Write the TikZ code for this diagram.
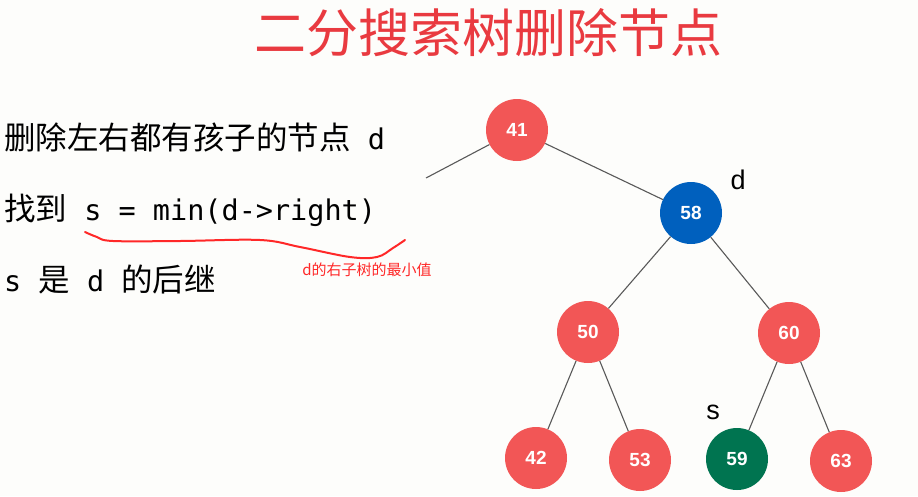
\documentclass[tikz,border=0pt]{standalone}
\usepackage{fontspec}
\setmainfont{Liberation Sans}
\setmonofont{DejaVu Sans Mono}
\newfontfamily\cjk{Noto Sans CJK SC}
\usetikzlibrary{positioning}
\definecolor{bgwhite}{RGB}{253,253,251}
\definecolor{titlered}{RGB}{233,58,64}
\definecolor{keyred}{RGB}{242,86,86}
\definecolor{keyblue}{RGB}{0,96,190}
\definecolor{keygreen}{RGB}{0,116,80}
\definecolor{notered}{RGB}{255,40,40}
\newcommand{\zh}[1]{{\cjk\fontsize{31.5}{31.5}\selectfont #1}}
\tikzset{every node/.style={inner sep=0pt}, % no padding round texts
key/.style={circle, minimum size=62pt, text=white, font=\fontsize{19}{19}\selectfont\bfseries}, % a tree node
red key/.style={key, fill=keyred},
edge/.style={draw=black!65, line width=1.1pt}, % the links of the tree
line/.style={anchor=base west, font=\fontsize{28.5}{28.5}\selectfont\ttfamily}, % a line of the text on the left
tag/.style={font=\fontsize{27}{27}\selectfont}, % the d and s marks
}

\begin{document}
\begin{tikzpicture}[x=1pt, y=-1pt]
\fill[bgwhite] (0,0) rectangle (918,496);
\useasboundingbox (0,0) rectangle (918,496);
\node[text=titlered, font=\cjk\fontsize{52}{52}\selectfont] (title) at (488,33) {二分搜索树删除节点};
% the text on the left
\node[line] (l1) at (4,149) {\zh{删除左右都有孩子的节点} d};
\node[line] (l2) at (4,220) {\zh{找到} s = min(d->right)};
\node[line] (l3) at (4,291) {s \zh{是} d \zh{的后继}};
\draw[notered, line width=2pt, line cap=round] plot[smooth, tension=0.6] coordinates {(85,232) (97,237) (113,241) (180,241) (260,240) (300,247) (350,257) (377,257) (393,248) (405,240)};
\node[text=notered, font=\cjk\fontsize{15}{15}\selectfont] (note) at (367,270) {d的右子树的最小值};
% the tree
\node[red key] (41) at (517,130) {41};
\node[key, fill=keyblue] (58) at (691,213) {58};
\node[red key] (50) at (588,332) {50};
\node[red key] (60) at (789,333) {60};
\node[red key] (42) at (536,458) {42};
\node[red key] (53) at (640,460) {53};
\node[key, fill=keygreen] (59) at (737,459) {59};
\node[red key] (63) at (841,461) {63};
\coordinate (left) at (426,178);
\node[tag] (d) at (738,180) {d};
\node[tag] (s) at (713,412) {s};
\draw[edge] (41) -- (left)
(41) -- (58)
(58) -- (50)
(58) -- (60)
(50) -- (42)
(50) -- (53)
(60) -- (59)
(60) -- (63);
\end{tikzpicture}
\end{document}
